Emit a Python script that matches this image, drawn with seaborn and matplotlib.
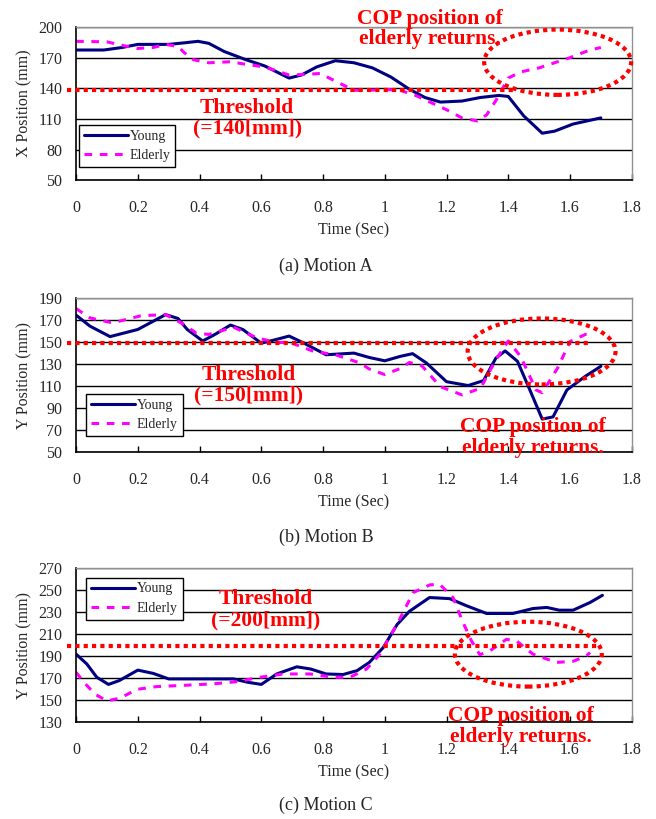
import matplotlib
matplotlib.use("Agg")
import matplotlib.pyplot as plt
from matplotlib.patches import Ellipse
import seaborn as sns

# Motion A (X position)
tA_young = [0, 0.09, 0.15, 0.2, 0.3, 0.35, 0.395, 0.43, 0.48, 0.55, 0.61, 0.65, 0.69, 0.73, 0.78,
            0.84, 0.9, 0.96, 1.02, 1.08, 1.13, 1.18, 1.25, 1.31, 1.37, 1.4, 1.45, 1.51, 1.55, 1.61, 1.7]
yA_young = [177.5, 177.5, 180, 183, 183, 184.5, 186, 184, 176, 168, 162, 156, 150, 153, 161,
            167, 165, 160, 151, 139, 131, 126.5, 127.5, 131, 133, 132, 113, 96, 98, 105, 111]
tA_elder = [0, 0.1, 0.15, 0.2, 0.25, 0.29, 0.33, 0.35, 0.38, 0.43, 0.5, 0.56, 0.61, 0.65, 0.69,
            0.74, 0.79, 0.84, 0.9, 0.95, 1.0, 1.05, 1.1, 1.15, 1.2, 1.25, 1.3, 1.33, 1.36, 1.4,
            1.44, 1.5, 1.56, 1.6, 1.66, 1.7]
yA_elder = [186, 185.5, 182, 179, 180, 183, 181, 175, 168, 165, 166, 163, 161, 157, 153,
            153.5, 154.5, 147, 138, 138, 139, 138, 133, 126, 119, 111, 108, 114, 128, 150,
            156, 160, 166, 170, 177, 180]

# Motion B (Y position)
tB_young = [0, 0.045, 0.11, 0.2, 0.24, 0.29, 0.33, 0.36, 0.41, 0.45, 0.5, 0.54, 0.6, 0.65, 0.69,
            0.735, 0.81, 0.9, 0.95, 1.0, 1.05, 1.09, 1.135, 1.2, 1.27, 1.32, 1.36, 1.39, 1.43,
            1.47, 1.51, 1.545, 1.59, 1.65, 1.7]
yB_young = [174.5, 164.5, 155, 161.5, 167.5, 175, 171.5, 161.5, 151, 157, 165.5, 161.5, 149, 152.5, 155.5,
            149.5, 138.5, 140, 136, 133, 137, 139.5, 131, 114, 110.5, 115, 135.5, 142, 132.5,
            106.5, 80, 82, 106.5, 119, 128]
tB_elder = [0, 0.045, 0.11, 0.14, 0.21, 0.29, 0.35, 0.39, 0.43, 0.51, 0.585, 0.65, 0.69, 0.77, 0.84,
            0.92, 0.95, 1.0, 1.05, 1.08, 1.12, 1.18, 1.25, 1.31, 1.36, 1.4, 1.44, 1.49, 1.51, 1.56,
            1.6, 1.65, 1.67]
yB_elder = [180.5, 172, 168, 169, 174, 175, 166, 158, 157, 163.5, 154, 149.5, 150, 141.5, 138.5,
            131, 125.5, 120.5, 126, 131.5, 128.5, 109.5, 102, 108, 134, 151, 137, 106.5, 104, 126.5,
            150.5, 157, 157]

# Motion C (Y position)
tC_young = [0, 0.035, 0.067, 0.105, 0.14, 0.2, 0.25, 0.3, 0.41, 0.51, 0.555, 0.6, 0.65, 0.715, 0.76,
            0.81, 0.865, 0.91, 0.95, 0.995, 1.04, 1.08, 1.145, 1.21, 1.265, 1.33, 1.415, 1.48, 1.525,
            1.565, 1.61, 1.665, 1.705]
yC_young = [192, 183, 171, 164.5, 168, 177.5, 174.5, 169.5, 169.5, 169.5, 166.5, 164.5, 174, 180.5, 178.5,
            174, 173.5, 177, 184.5, 198, 219, 231, 243.5, 242.5, 236, 229, 229, 233.5, 234.5,
            232, 232, 239, 245.5]
tC_elder = [0, 0.03, 0.062, 0.1, 0.142, 0.197, 0.26, 0.337, 0.445, 0.52, 0.596, 0.67, 0.758, 0.833,
            0.887, 0.941, 0.984, 1.043, 1.092, 1.146, 1.178, 1.221, 1.254, 1.281, 1.308, 1.34, 1.394,
            1.427, 1.48, 1.556, 1.61, 1.653, 1.665]
yC_elder = [175.5, 165, 155.5, 149.5, 152, 160, 162.5, 163.5, 165, 167, 171, 174, 174, 171,
            171, 178.5, 192, 221, 248, 255, 255.5, 243.5, 220.5, 204, 191.5, 195, 205.5,
            204, 192, 184.5, 185.5, 190.5, 193.5]

# threshold lines as drawn (value, start, end) and the marked regions
thr_value = [138, 149, 199]
thr_start = [-0.03, -0.03, -0.03]
thr_end = [1.42, 1.67, 1.69]
thr_label = ["Threshold\n(=140[mm])", "Threshold\n(=150[mm])", "Threshold\n(=200[mm])"]
ell_center = [(1.56, 165.5), (1.508, 141.5), (1.465, 192)]
ell_size = [(0.476, 64), (0.479, 60), (0.476, 59)]

y_labels = ["X Position (mm)", "Y Position (mm)", "Y Position (mm)"]
y_ticks = [list(range(50, 201, 30)), list(range(50, 191, 20)), list(range(130, 271, 20))]
captions = ["(a) Motion A", "(b) Motion B", "(c) Motion C"]

sns.set_style("white")
plt.rcParams['font.family'] = ['Liberation Serif', 'DejaVu Serif']

fig = plt.figure(figsize=(6.56, 8.19), dpi=100)
positions = [[0.116, 0.780, 0.847, 0.187],
             [0.116, 0.448, 0.847, 0.188],
             [0.116, 0.118, 0.847, 0.188]]

series = [(tA_young, yA_young, tA_elder, yA_elder),
          (tB_young, yB_young, tB_elder, yB_elder),
          (tC_young, yC_young, tC_elder, yC_elder)]

thr_text_pos = [(0.554, 110.5), (0.56, 110.5), (0.615, 232.5)]
cop_text_pos = [(1.146, 198), (1.479, 63), (1.44, 126.5)]
legend_anchor = [((0.005, 0.085), "lower left"), ((0.018, 0.104), "lower left"),
                 ((0.018, 0.94), "upper left")]
caption_y = [0.675, 0.344, 0.017]

red = "#FF0000"
for i in range(3):
    ax = fig.add_axes(positions[i])
    ty, vy, te, ve = series[i]

    sns.lineplot(x=ty, y=vy, ax=ax, color="#000080", linewidth=2.2, label="Young")
    sns.lineplot(x=te, y=ve, ax=ax, color="#FF00FF", linewidth=2.2, label="Elderly",
                 linestyle=(0, (2.5, 2.5)))

    # dotted threshold and circled region
    ax.plot([thr_start[i], thr_end[i]], [thr_value[i], thr_value[i]], color=red,
            linewidth=3, linestyle=(0, (1, 1)), clip_on=False, zorder=4)
    ell = Ellipse(ell_center[i], ell_size[i][0], ell_size[i][1], fill=False,
                  edgecolor=red, linewidth=3, linestyle=(0, (1, 1)), clip_on=False, zorder=4)
    ax.add_patch(ell)

    ax.text(thr_text_pos[i][0], thr_text_pos[i][1], thr_label[i], color=red,
            fontsize=15.5, fontweight="bold", ha="center", va="center", linespacing=1.05)
    ax.text(cop_text_pos[i][0], cop_text_pos[i][1], "COP position of\nelderly returns.",
            color=red, fontsize=15.5, fontweight="bold", ha="center", va="center",
            linespacing=1.05, clip_on=False)

    ax.set_xlim(0, 1.8)
    ax.set_xticks([0, 0.2, 0.4, 0.6, 0.8, 1.0, 1.2, 1.4, 1.6, 1.8])
    ax.set_xticklabels(["0", "0.2", "0.4", "0.6", "0.8", "1", "1.2", "1.4", "1.6", "1.8"])
    ax.set_ylim(y_ticks[i][0], y_ticks[i][-1])
    ax.set_yticks(y_ticks[i])
    ax.tick_params(axis="x", direction="in", length=4, width=1, pad=14, labelsize=11.5,
                   color="black", bottom=True)
    ax.tick_params(axis="y", length=0, pad=10, labelsize=11.5)

    ax.yaxis.grid(True, color="black", linewidth=1)
    ax.xaxis.grid(False)
    ax.set_axisbelow(True)
    for side in ["top", "right"]:
        ax.spines[side].set_color("#909090")
        ax.spines[side].set_linewidth(1)
    for side in ["left", "bottom"]:
        ax.spines[side].set_color("black")
        ax.spines[side].set_linewidth(1.2)

    ax.set_xlabel("Time (Sec)", fontsize=11.5, labelpad=5)
    ax.set_ylabel(y_labels[i], fontsize=11.5, labelpad=4)

    anchor, loc = legend_anchor[i]
    leg = ax.legend(loc=loc, bbox_to_anchor=anchor, fontsize=10, frameon=True,
                    fancybox=False, framealpha=1, edgecolor="black", handlelength=3.2,
                    handletextpad=0.1, borderpad=0.35, labelspacing=0.45, borderaxespad=0)
    leg.get_frame().set_linewidth(1)

    fig.text(0.497, caption_y[i], captions[i], fontsize=13, ha="center", va="center")

fig.savefig("out.png", dpi=100)
